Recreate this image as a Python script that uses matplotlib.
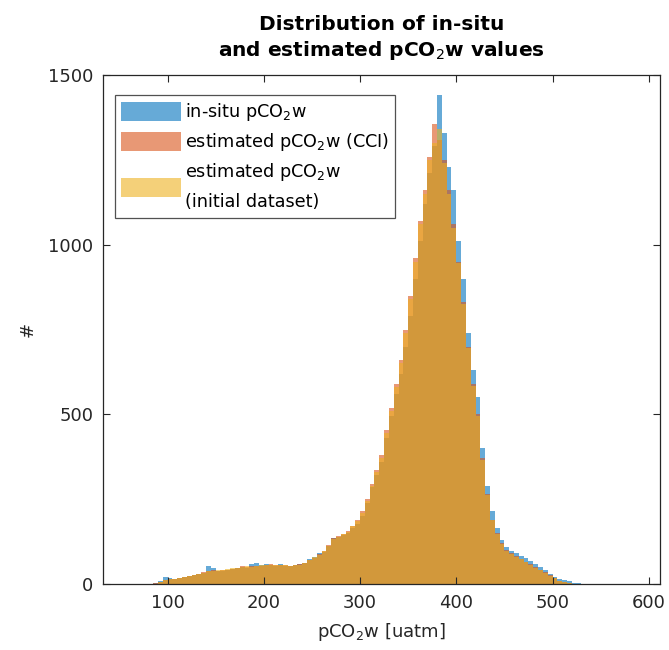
import numpy as np
import matplotlib
matplotlib.use('Agg')
import matplotlib.pyplot as plt

# histogram counts, 5 uatm bins starting at 85 uatm
bin_start = 85
bin_width = 5
insitu = [3, 10, 22, 18, 15, 18, 20, 25, 28, 30,
          33, 52, 48, 38, 38, 42, 45, 48, 50, 47,
          60, 62, 55, 58, 56, 52, 58, 54, 52, 55,
          58, 62, 75, 80, 90, 95, 112, 135, 140, 145,
          150, 165, 178, 200, 238, 285, 320, 360, 430, 495,
          560, 620, 700, 790, 900, 1010, 1120, 1210, 1290, 1440,
          1330, 1230, 1160, 1010, 900, 740, 630, 550, 400, 290,
          215, 165, 130, 110, 98, 90, 82, 78, 68, 58,
          50, 40, 30, 22, 16, 12, 8, 4, 2]
est_cci = [2, 6, 12, 14, 15, 17, 20, 24, 28, 31,
           34, 38, 40, 38, 40, 42, 45, 48, 52, 50,
           52, 52, 54, 57, 58, 55, 56, 55, 53, 55,
           58, 62, 70, 78, 88, 98, 115, 135, 142, 148,
           155, 172, 190, 215, 250, 295, 335, 380, 455, 520,
           590, 660, 750, 850, 960, 1070, 1160, 1260, 1356, 1310,
           1250, 1160, 1060, 950, 830, 700, 590, 500, 370, 265,
           190, 150, 120, 100, 90, 82, 75, 66, 58, 50,
           42, 35, 27, 18, 10, 5, 2, 1, 0]
est_init = [1, 5, 11, 14, 16, 18, 21, 23, 27, 30,
            33, 37, 39, 40, 41, 43, 46, 47, 50, 52,
            51, 53, 55, 56, 57, 56, 55, 56, 54, 56,
            57, 63, 72, 80, 86, 96, 112, 132, 140, 146,
            152, 170, 186, 210, 245, 290, 330, 372, 445, 510,
            580, 650, 740, 840, 950, 1060, 1150, 1250, 1300, 1340,
            1240, 1150, 1050, 945, 825, 695, 585, 495, 365, 262,
            188, 148, 118, 98, 88, 80, 73, 64, 56, 48,
            40, 33, 25, 17, 10, 5, 2, 1, 0]

labels = ['in-situ pCO$_2$w', 'estimated pCO$_2$w (CCI)',
          'estimated pCO$_2$w\n(initial dataset)']
colors = ['#0072BD', '#D95319', '#EDB120']

edges = bin_start + bin_width * np.arange(len(insitu) + 1)
dark = '#262626'

fig = plt.figure(figsize=(6.69, 6.5), dpi=100)
ax = fig.add_axes([0.154, 0.1015, 0.833, 0.783])

for counts, c, lab in zip([insitu, est_cci, est_init], colors, labels):
    ax.stairs(counts, edges, fill=True, color=c, alpha=0.6, linewidth=0, label=lab)

ax.set_xlim(33, 612)
ax.set_ylim(0, 1500)
ax.set_xticks([100, 200, 300, 400, 500, 600])
ax.set_yticks([0, 500, 1000, 1500])
ax.tick_params(direction='in', length=5, width=0.8, top=True, right=True,
               labelsize=13, colors=dark, pad=7)
for s in ax.spines.values():
    s.set_color(dark)
    s.set_linewidth(0.9)

ax.set_title('Distribution of in-situ\nand estimated pCO$_2$w values',
             fontsize=14.5, fontweight='bold', pad=14, linespacing=1.3)
ax.set_xlabel('pCO$_2$w [uatm]', fontsize=13, color=dark, labelpad=7)
ax.set_ylabel('#', fontsize=13, color=dark, labelpad=8)

leg = ax.legend(loc='upper left', fontsize=12.7, frameon=True, fancybox=False,
                edgecolor=dark, handlelength=3.4, handleheight=1.3,
                handletextpad=0.2, borderpad=0.35, labelspacing=0.45,
                bbox_to_anchor=(0.0215, 0.961), borderaxespad=0)
leg.get_frame().set_linewidth(0.9)
for t in leg.get_texts():
    t.set_linespacing(1.75)

fig.savefig('out.png', dpi=100)
